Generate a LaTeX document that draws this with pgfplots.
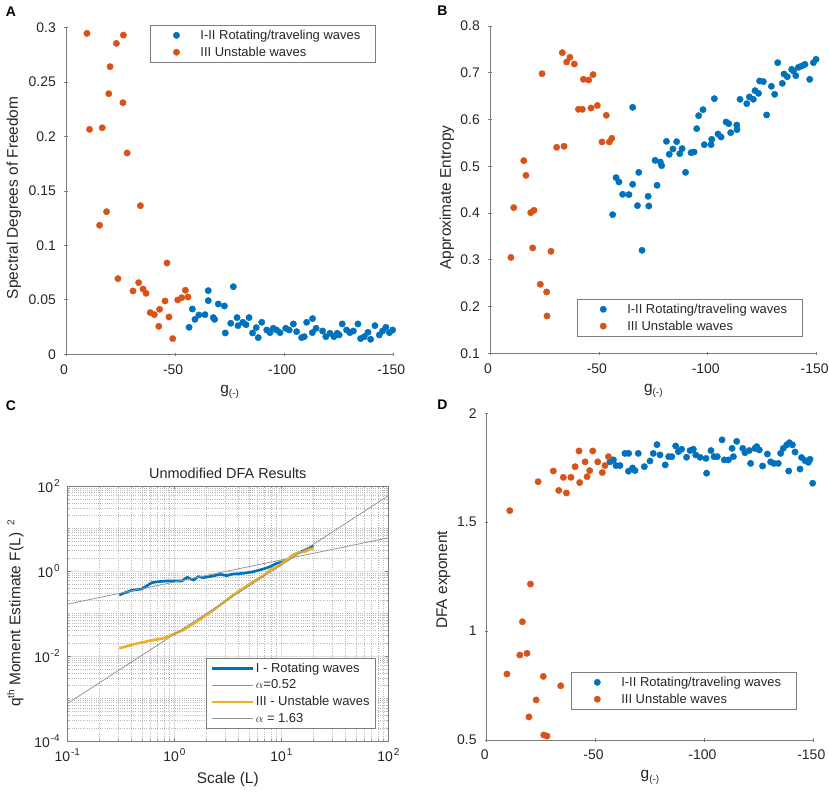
\documentclass[border=0pt]{standalone}
\usepackage{pgfplots}
\pgfplotsset{compat=1.18}
\usepackage{fontspec}
\setmainfont{Liberation Sans}
\definecolor{mblue}{RGB}{0,114,189}
\definecolor{morange}{RGB}{217,83,25}
\definecolor{myellow}{RGB}{237,177,32}
\definecolor{axgray}{RGB}{125,125,125}
\definecolor{txtc}{RGB}{38,38,38}
\definecolor{fitgray}{RGB}{150,150,150}
\newcommand{\mysub}[1]{\raisebox{-3.5bp}{\fontsize{10}{12}\selectfont #1}}
\newcommand{\mysup}[1]{\raisebox{6bp}{\fontsize{10}{12}\selectfont #1}}
\pgfplotsset{
  base/.style={
    scale only axis, enlargelimits=false, scaled ticks=false,
    axis line style={axgray, line width=0.8bp},
    tick style={axgray, line width=0.8bp},
    major tick length=3.3bp, minor tick length=1.8bp,
    tick align=inside,
    ticklabel style={font=\fontsize{14}{16}\selectfont, text=txtc},
    label style={font=\fontsize{15.5}{18}\selectfont, text=txtc},
  },
  gpanel/.style={
    base,
    axis x line=bottom, axis y line=left,
    x axis line style={-}, y axis line style={-},
    every outer x axis line/.append style={-},
    every outer y axis line/.append style={-},
    every inner x axis line/.append style={-},
    every inner y axis line/.append style={-},
    x dir=reverse, xmin=-150, xmax=0, xtick={-150,-100,-50,0},
    xticklabels={-150,-100,-50,0},
    xlabel={g\mysub{(-)}},
    xlabel style={at={(axis description cs:0.5,-0.119)}, anchor=base},
    xticklabel style={yshift=-5bp, xshift=-2bp},
    yticklabel style={xshift=-5bp},
    legend style={draw=axgray, line width=0.7bp, fill=white,
      font=\fontsize{13}{15}\selectfont, text=txtc, cells={anchor=west},
      inner xsep=4bp, inner ysep=1.5bp, nodes={inner xsep=2bp, inner ysep=3bp}},
    legend image code/.code={\path[draw=none,fill=none] (0bp,0bp) -- (44bp,0bp);\draw[##1] plot[only marks] coordinates {(22bp,0bp)};},
  },
  bdots/.style={only marks, mark=*, mark size=3.2bp, color=mblue, mark options={solid, fill=mblue, draw=mblue, line width=0.4bp}},
  odots/.style={only marks, mark=*, mark size=3.2bp, color=morange, mark options={solid, fill=morange, draw=morange, line width=0.4bp}},
}
\begin{document}
\begin{tikzpicture}
\path[use as bounding box] (0bp,0bp) rectangle (829bp,793bp);
\node[font=\bfseries\fontsize{14}{16}\selectfont] at (11bp,781bp) {A};
\node[font=\bfseries\fontsize{14}{16}\selectfont] at (442.5bp,782bp) {B};
\node[font=\bfseries\fontsize{14}{16}\selectfont] at (11bp,387bp) {C};
\node[font=\bfseries\fontsize{14}{16}\selectfont] at (442.5bp,388bp) {D};

% ---------------- Panel A ----------------
\begin{axis}[gpanel, at={(66bp,438.7bp)}, anchor=south west, width=327.3bp, height=326.6bp,
  ymin=0, ymax=0.3, ytick={0,0.05,0.1,0.15,0.2,0.25,0.3},
  yticklabels={0,0.05,0.1,0.15,0.2,0.25,0.3},
  ylabel={Spectral Degrees of Freedom},
  ylabel style={at={(axis description cs:-0.159,0.479)}, anchor=center},
  legend style={at={(axis description cs:0.257,1.008)}, anchor=north west}]
\addplot[bdots] coordinates {
(-56.4,0.0248) (-57.9,0.0416) (-59.1,0.0321) (-60.9,0.0361) (-63.7,0.0364) (-65.2,0.0585) (-65.2,0.0493)
(-67.5,0.0337) (-68.1,0.0321) (-69.8,0.0462) (-72.6,0.0444) (-73.0,0.0196) (-75.5,0.0285) (-76.7,0.0621)
(-78.4,0.0337) (-78.8,0.0263) (-81.0,0.0294) (-82.5,0.0272) (-83.9,0.0337) (-85.5,0.0196) (-87.2,0.0245)
(-88.1,0.0153) (-89.7,0.0294) (-92.0,0.0223) (-93.5,0.0199) (-95.0,0.0239) (-96.5,0.0223) (-98.1,0.0199)
(-100.7,0.0239) (-102.3,0.0223) (-104.2,0.0279) (-105.7,0.0208) (-108.0,0.0153) (-109.2,0.0162) (-110.3,0.0294)
(-112.9,0.0199) (-113.0,0.0328) (-114.6,0.0239) (-117.6,0.0214) (-119.1,0.0162) (-121.0,0.0193) (-122.8,0.0162)
(-124.3,0.0193) (-125.2,0.0178) (-126.6,0.0279) (-128.6,0.0223) (-130.1,0.0199) (-131.7,0.0214) (-133.8,0.0279)
(-135.0,0.0144) (-136.7,0.0162) (-138.4,0.0202) (-139.6,0.0138) (-141.6,0.0263) (-143.6,0.0178) (-145.1,0.0214)
(-146.6,0.0248) (-148.2,0.0199) (-149.7,0.0223)};
\addlegendentry{I-II Rotating/traveling waves\rule{9bp}{0bp}}
\addplot[odots] coordinates {
(-9.6,0.2948) (-10.8,0.2066) (-16.6,0.2081) (-15.4,0.1185) (-18.6,0.131) (-19.6,0.2394) (-20.2,0.2642)
(-23.1,0.2856) (-23.8,0.0695) (-26.1,0.2311) (-26.3,0.2932) (-28.0,0.1849) (-30.7,0.0582) (-33.3,0.0658)
(-34.1,0.1365) (-35.3,0.06) (-36.7,0.056) (-38.6,0.0383) (-40.5,0.0364) (-42.5,0.0257) (-42.9,0.0413)
(-45.4,0.049) (-46.3,0.0839) (-47.2,0.0343) (-48.9,0.0144) (-51.2,0.0499) (-53.0,0.052) (-54.7,0.0588)
(-55.9,0.0526)};
\addlegendentry{III Unstable waves}
\end{axis}

% ---------------- Panel B ----------------
\begin{axis}[gpanel, at={(490bp,439.7bp)}, anchor=south west, width=326.7bp, height=327.3bp,
  ymin=0.1, ymax=0.8, ytick={0.1,0.2,0.3,0.4,0.5,0.6,0.7,0.8},
  yticklabels={0.1,0.2,0.3,0.4,0.5,0.6,0.7,0.8},
  ylabel={Approximate Entropy},
  ylabel style={at={(axis description cs:-0.1316,0.476)}, anchor=center},
  legend style={at={(axis description cs:0.266,0.166)}, anchor=north west}]
\addplot[bdots] coordinates {
(-56.3,0.3965) (-57.9,0.4757) (-59.2,0.4664) (-60.9,0.44) (-63.8,0.4393) (-65.5,0.626) (-65.5,0.4614)
(-67.7,0.4158) (-68.3,0.487) (-69.8,0.3203) (-72.6,0.4357) (-72.9,0.415) (-75.8,0.5127) (-76.7,0.4593)
(-78.2,0.509) (-78.8,0.5013) (-81.0,0.5533) (-82.3,0.5256) (-84.0,0.537) (-85.7,0.5526) (-87.1,0.527)
(-88.2,0.5377) (-89.8,0.487) (-92.3,0.5291) (-93.7,0.5305) (-94.9,0.5804) (-95.8,0.6082) (-97.8,0.621)
(-98.4,0.5462) (-101.5,0.5462) (-101.8,0.5576) (-103.0,0.6446) (-104.7,0.569) (-106.1,0.5626) (-108.4,0.5947)
(-109.6,0.5911) (-110.5,0.5719) (-113.3,0.5883) (-113.4,0.5783) (-114.8,0.6432) (-117.9,0.6339) (-119.1,0.6482)
(-120.9,0.6432) (-121.7,0.6617) (-123.3,0.656) (-123.8,0.6824) (-125.5,0.681) (-127.0,0.6097) (-129.2,0.671)
(-130.7,0.6539) (-132.1,0.7216) (-134.2,0.6774) (-135.0,0.6973) (-136.5,0.6916) (-138.5,0.7073) (-139.3,0.7038)
(-140.4,0.6938) (-141.6,0.7116) (-143.1,0.7144) (-144.6,0.718) (-146.8,0.6859) (-148.5,0.7216) (-149.7,0.7287)};
\addlegendentry{I-II Rotating/traveling waves\rule{9bp}{0bp}}
\addplot[odots] coordinates {
(-9.6,0.305) (-10.9,0.4115) (-15.5,0.512) (-16.5,0.4806) (-18.7,0.4008) (-19.6,0.3253) (-20.2,0.4058)
(-23.1,0.2476) (-23.9,0.698) (-26.0,0.2312) (-26.2,0.1798) (-28.0,0.3181) (-30.6,0.5405) (-33.2,0.743)
(-34.0,0.5427) (-35.2,0.723) (-36.7,0.733) (-38.7,0.7187) (-40.6,0.6218) (-42.4,0.6218) (-42.9,0.686)
(-45.3,0.6845) (-46.4,0.6246) (-47.3,0.696) (-49.3,0.630) (-51.4,0.552) (-53.4,0.609) (-54.8,0.552)
(-55.9,0.5598)};
\addlegendentry{III Unstable waves}
\end{axis}

% ---------------- Panel C ----------------
\begin{axis}[base, at={(67.3bp,52bp)}, anchor=south west, width=321bp, height=255bp,
  xmode=log, ymode=log, xmin=0.1, xmax=100, ymin=1e-4, ymax=100,
  xtick={0.1,1,10,100}, ytick={1e-4,1e-2,1,100},
  xticklabels={10\kern1bp\mysup{-1},10\kern1bp\mysup{0},10\kern1bp\mysup{1},10\kern1bp\mysup{2}},
  yticklabels={10\kern1bp\mysup{-4},10\kern1bp\mysup{-2},10\kern1bp\mysup{0},10\kern1bp\mysup{2}},
  minor xtick={0.2,0.3,0.4,0.5,0.6,0.7,0.8,0.9,2,3,4,5,6,7,8,9,20,30,40,50,60,70,80,90},
  minor ytick={2e-4,3e-4,4e-4,5e-4,6e-4,7e-4,8e-4,9e-4,1e-3,2e-3,3e-3,4e-3,5e-3,6e-3,7e-3,8e-3,9e-3,
    2e-2,3e-2,4e-2,5e-2,6e-2,7e-2,8e-2,9e-2,0.1,0.2,0.3,0.4,0.5,0.6,0.7,0.8,0.9,
    2,3,4,5,6,7,8,9,10,20,30,40,50,60,70,80,90},
  grid=both, major grid style={black!13, line width=0.6bp},
  minor grid style={black!28, line width=0.5bp, dash pattern=on 0.6bp off 1.6bp},
  minor tick style={axgray!70, line width=0.5bp},
  xticklabel style={yshift=-4bp}, yticklabel style={xshift=-4bp},
  title={Unmodified DFA Results}, title style={font=\fontsize{14.5}{17}\selectfont, text=txtc, yshift=-2bp},
  xlabel={Scale (L)},
  xlabel style={at={(axis description cs:0.5,-0.165)}, anchor=base},
  ylabel={q\mysup{th} Moment Estimate F(L)\hspace{7bp}\mysup{2}},
  ylabel style={at={(axis description cs:-0.162,0.5)}, anchor=center},
  legend style={at={(axis description cs:0.432,0.325)}, anchor=north west, draw=axgray, line width=0.7bp,
    font=\fontsize{13}{15}\selectfont, text=txtc, cells={anchor=west}, inner xsep=4bp, inner ysep=1.5bp,
    nodes={inner xsep=2bp, inner ysep=3bp}},
  legend image code/.code={\draw[#1] (0bp,0bp) -- (41bp,0bp);}]
\addplot[mblue, line width=2.6bp] coordinates {
(0.306,0.272) (0.346,0.309) (0.400,0.351) (0.495,0.377) (0.552,0.444) (0.615,0.531) (0.708,0.561)
(0.849,0.582) (1.014,0.582) (1.172,0.582) (1.321,0.710) (1.507,0.614) (1.675,0.736) (1.866,0.697)
(2.312,0.762) (2.673,0.836) (3.083,0.776) (3.556,0.849) (4.416,0.881) (5.470,0.964) (6.792,1.114)
(7.834,1.265) (9.036,1.514) (10.45,1.656) (11.61,1.884) (12.94,2.377) (14.93,2.754) (17.26,3.236)
(19.91,3.873)};
\addlegendentry{I - Rotating waves}
\addplot[fitgray, line width=0.8bp] coordinates {(0.1,0.166) (100,6.026)};
\addlegendentry{$\alpha$=0.52}
\addplot[myellow, line width=2.6bp] coordinates {
(0.306,0.01514) (0.414,0.01884) (0.593,0.02291) (0.789,0.02606) (0.979,0.03236) (1.213,0.04093)
(1.618,0.06427) (2.153,0.1047) (2.871,0.1799) (3.556,0.2723) (4.416,0.3908) (5.470,0.5610)
(6.792,0.7762) (7.834,1.057) (9.727,1.384) (11.22,1.816) (12.94,2.377) (14.93,2.754) (16.63,2.844)
(18.54,3.236) (19.91,3.420)};
\addlegendentry{III - Unstable waves}
\addplot[fitgray, line width=0.8bp] coordinates {(0.1,7.59e-4) (100,58.9)};
\addlegendentry{$\alpha$ = 1.63}
\end{axis}

% ---------------- Panel D ----------------
\begin{axis}[gpanel, at={(486.7bp,53bp)}, anchor=south west, width=326.6bp, height=326.7bp,
  ymin=0.5, ymax=2, ytick={0.5,1,1.5,2}, yticklabels={0.5,1,1.5,2},
  ylabel={DFA exponent},
  ylabel style={at={(axis description cs:-0.1329,0.49)}, anchor=center},
  legend style={at={(axis description cs:0.258,0.208)}, anchor=north west}]
\addplot[bdots] coordinates {
(-56.6,1.777) (-58.2,1.786) (-59.4,1.760) (-61.2,1.760) (-63.5,1.816) (-65.2,1.816) (-65.1,1.734)
(-67.0,1.749) (-68.1,1.737) (-69.6,1.816) (-72.4,1.755) (-75.0,1.781) (-76.5,1.816) (-78.2,1.856)
(-79.6,1.809) (-82.0,1.763) (-83.6,1.801) (-85.0,1.801) (-86.8,1.850) (-88.0,1.824) (-89.5,1.835)
(-91.8,1.798) (-93.4,1.829) (-94.9,1.835) (-96.0,1.809) (-98.0,1.798) (-100.7,1.793) (-101.0,1.725)
(-103.0,1.829) (-104.4,1.801) (-105.9,1.801) (-108.1,1.878) (-109.1,1.786) (-111.0,1.786) (-112.7,1.839)
(-113.3,1.801) (-114.8,1.871) (-117.6,1.839) (-118.6,1.819) (-120.6,1.829) (-121.2,1.770) (-123.2,1.839)
(-124.0,1.847) (-125.2,1.832) (-126.7,1.758) (-128.9,1.813) (-130.4,1.777) (-131.9,1.770) (-133.9,1.770)
(-135.0,1.816) (-136.2,1.839) (-137.8,1.855) (-138.7,1.735) (-139.0,1.865) (-140.4,1.855) (-141.6,1.822)
(-143.9,1.744) (-144.6,1.797) (-146.2,1.783) (-147.7,1.775) (-148.5,1.789) (-149.7,1.679)};
\addlegendentry{I-II Rotating/traveling waves\rule{9bp}{0bp}}
\addplot[odots] coordinates {
(-9.3,0.803) (-10.6,1.553) (-15.2,0.890) (-16.4,1.043) (-18.5,0.898) (-19.4,0.606) (-20.1,1.216)
(-22.7,0.684) (-23.6,1.686) (-26.0,0.792) (-26.2,0.523) (-27.7,0.518) (-30.6,1.735) (-33.1,1.646)
(-34.0,0.749) (-35.2,1.706) (-36.6,1.634) (-38.7,1.706) (-40.6,1.755) (-42.4,1.827) (-42.7,1.682)
(-45.2,1.777) (-46.1,1.709) (-47.3,1.737) (-48.7,1.827) (-51.0,1.777) (-53.1,1.728) (-54.3,1.760)
(-55.9,1.801)};
\addlegendentry{III Unstable waves}
\end{axis}
\end{tikzpicture}
\end{document}
